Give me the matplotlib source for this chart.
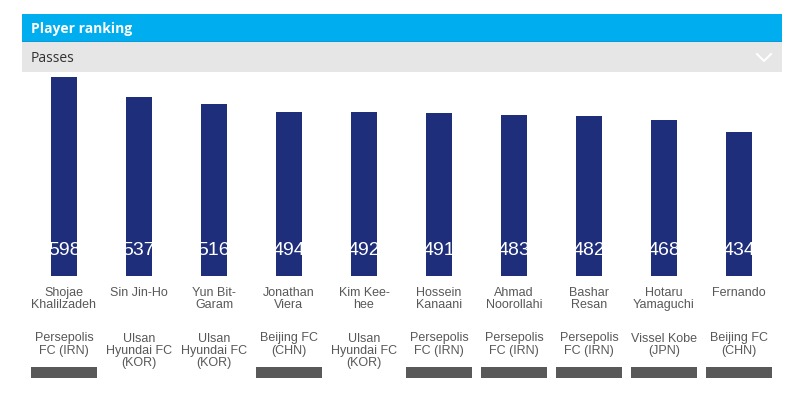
import matplotlib.pyplot as plt
from matplotlib.patches import Rectangle
from matplotlib import transforms

players = ['Shojae\nKhalilzadeh', 'Sin Jin-Ho', 'Yun Bit-\nGaram', 'Jonathan\nViera',
           'Kim Kee-\nhee', 'Hossein\nKanaani', 'Ahmad\nNoorollahi', 'Bashar\nResan',
           'Hotaru\nYamaguchi', 'Fernando']
clubs = ['Persepolis\nFC (IRN)', 'Ulsan\nHyundai FC\n(KOR)', 'Ulsan\nHyundai FC\n(KOR)',
         'Beijing FC\n(CHN)', 'Ulsan\nHyundai FC\n(KOR)', 'Persepolis\nFC (IRN)',
         'Persepolis\nFC (IRN)', 'Persepolis\nFC (IRN)', 'Vissel Kobe\n(JPN)',
         'Beijing FC\n(CHN)']
passes = [598, 537, 516, 494, 492, 491, 483, 482, 468, 434]
logo_shown = [True, False, False, True, False, True, True, True, True, True]

W, H = 800, 398
navy = '#1F2E7A'
txt_grey = '#585858'

fig = plt.figure(figsize=(W / 100, H / 100), dpi=100)
fig.patch.set_facecolor('white')

# header bars
def px_rect(x0, y0, x1, y1, color):
    fig.add_artist(Rectangle((x0 / W, 1 - y1 / H), (x1 - x0) / W, (y1 - y0) / H,
                             transform=fig.transFigure, color=color, lw=0))

px_rect(22, 13.5, 781.5, 42.3, '#00AEEF')
px_rect(22, 41.3, 781.5, 42.3, '#0A9BD6')
px_rect(22, 42.3, 781.5, 71.7, '#E6E6E6')
fig.text(31 / W, 1 - 28.5 / H, 'Player ranking', color='white', fontsize=10,
         fontweight='bold', family='Open Sans', va='center', ha='left')
fig.text(31 / W, 1 - 58 / H, 'Passes', color='#333333', fontsize=10,
         family='Open Sans', va='center', ha='left')
fig.add_artist(plt.Line2D([757 / W, 764 / W, 771 / W],
                          [1 - 54 / H, 1 - 61 / H, 1 - 54 / H],
                          transform=fig.transFigure, color='white', lw=1.5))

# bar axes
ax = fig.add_axes([22 / W, 1 - 276 / H, (781 - 22) / W, (276 - 72) / H])
ax.set_xlim(-42 / 75, 9 + 42 / 75)
ax.set_ylim(0, 204 * 598 / 199)
ax.axis('off')

x = list(range(len(passes)))
bars = ax.bar(x, passes, width=26 / 75, color=navy)

blend = transforms.blended_transform_factory(ax.transData, fig.transFigure)
for i, (b, v) in enumerate(zip(bars, passes)):
    t = ax.text(i, 1 - 250 / H, str(v), transform=blend, color='white',
                fontsize=14, family='Liberation Sans', ha='center', va='center')
    t.set_clip_path(b)
    ax.text(i, 1 - 287 / H, players[i], transform=blend, color=txt_grey,
            fontsize=9, family='Liberation Sans', ha='center', va='top',
            linespacing=1.05)
    ax.text(i, 1 - 332.5 / H, clubs[i], transform=blend, color=txt_grey,
            fontsize=9, family='Liberation Sans', ha='center', va='top',
            linespacing=1.05)
    if logo_shown[i]:
        ax.add_patch(Rectangle((i - 0.438, 1 - 378.3 / H), 0.876, 11.6 / H,
                               transform=blend, color='#595959', lw=0,
                               clip_on=False))

fig.savefig('out.png', dpi=100)
